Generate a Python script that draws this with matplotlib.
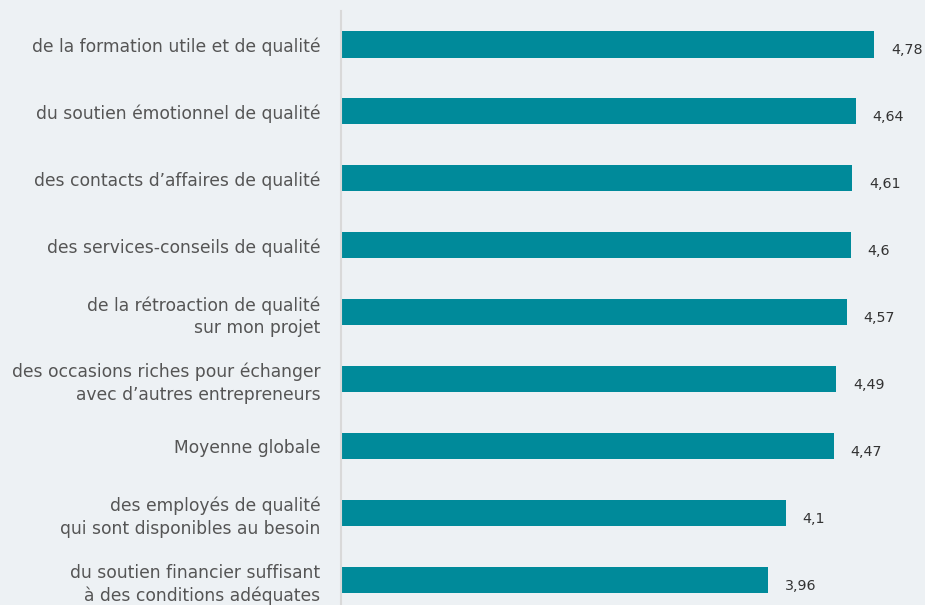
import matplotlib
matplotlib.use('Agg')
import matplotlib.pyplot as plt

labels = ['de la formation utile et de qualité',
          'du soutien émotionnel de qualité',
          'des contacts d\u2019affaires de qualité',
          'des services-conseils de qualité',
          'de la rétroaction de qualité\nsur mon projet',
          'des occasions riches pour échanger\navec d\u2019autres entrepreneurs',
          'Moyenne globale',
          'des employés de qualité\nqui sont disponibles au besoin',
          'du soutien financier suffisant\nà des conditions adéquates']
values = [4.78, 4.64, 4.61, 4.6, 4.57, 4.49, 4.47, 4.1, 3.96]

bg = '#edf1f4'
bar_col = '#008a9a'
plt.rcParams['font.family'] = ['DejaVu Sans']

fig = plt.figure(figsize=(9.25, 6.05), dpi=100, facecolor=bg)
ax = fig.add_axes([341/925, -8.5/605, 1 - 341/925, 602.5/605])
ax.set_facecolor(bg)

ypos = list(range(len(values)))
ax.barh(ypos, values, height=0.39, color=bar_col)
ax.set_ylim(len(values) - 0.5, -0.5)
ax.set_xlim(0.666, 5.175)

for y, v in zip(ypos, values):
    txt = ('%g' % v).replace('.', ',')
    ax.annotate(txt, (v, y), xytext=(17, -6), textcoords='offset pixels',
                ha='left', va='center', fontsize=10.3, color='#333333')

ax.set_yticks(ypos)
ax.set_yticklabels(labels, fontsize=12.3, color='#555555', linespacing=1.35)
ax.tick_params(axis='y', length=0, pad=15)
ax.set_xticks([])
for s in ['top', 'right', 'bottom']:
    ax.spines[s].set_visible(False)
ax.spines['left'].set_color('#d9d9d9')
ax.spines['left'].set_linewidth(1.5)

fig.savefig('out.png', dpi=100, facecolor=bg)
